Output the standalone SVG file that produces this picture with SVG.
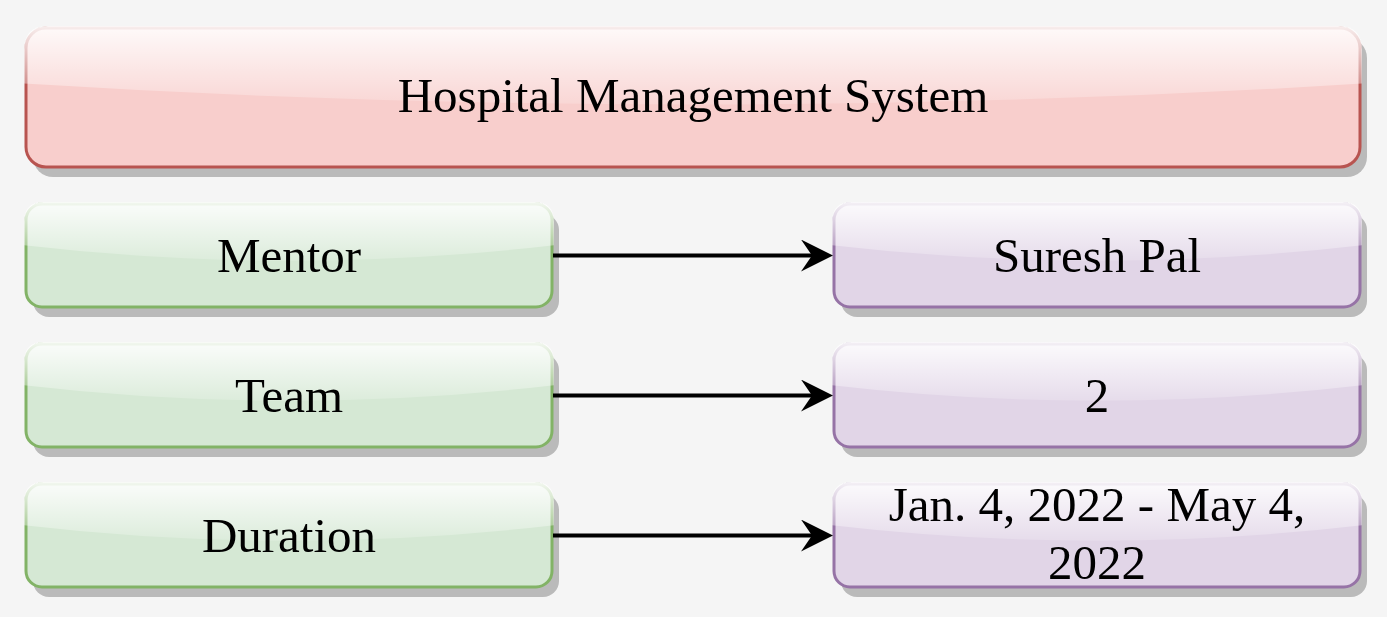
<svg xmlns="http://www.w3.org/2000/svg" width="1387" height="617" viewBox="0 0 1387 617">
<defs>
<linearGradient id="glass" x1="0" y1="0" x2="0" y2="1.1">
<stop offset="0" stop-color="#ffffff" stop-opacity="0.9"/>
<stop offset="1" stop-color="#ffffff" stop-opacity="0.1"/>
</linearGradient>
<marker id="arrow" markerUnits="userSpaceOnUse" markerWidth="32" markerHeight="32" viewBox="0 0 32 32" refX="19" refY="16" orient="auto">
<path d="M0,0 L32,16 L0,32 L11,16 Z" fill="#000000"/>
</marker>
</defs>
<style>
.shadow{fill:#000000;fill-opacity:0.24;}
.red{fill:#f8cecc;stroke:#b85450;stroke-width:3;}
.green{fill:#d5e8d4;stroke:#82b366;stroke-width:3;}
.purple{fill:#e1d5e7;stroke:#9673a6;stroke-width:3;}
.glass{fill:url(#glass);stroke:none;}
.label{font-family:"Liberation Serif","Times New Roman",serif;font-size:49px;fill:#000000;text-anchor:middle;}
.edge{stroke:#000000;stroke-width:4;fill:none;}
</style>
<rect x="0" y="0" width="1387" height="617" fill="#f5f5f5"/>

<g id="title">
<rect class="shadow" x="33" y="38" width="1334" height="139" rx="20"/>
<rect class="red" x="26" y="28" width="1334" height="139" rx="20"/>
<path class="glass" d="M48,26 Q24,26 24,50 L24,83.6 Q693,125.3 1362,83.6 L1362,50 Q1362,26 1338,26 Z"/>
<text class="label" x="693" y="112">Hospital Management System</text>
</g>

<g id="mentor">
<rect class="shadow" x="33" y="214" width="526" height="103" rx="16"/>
<rect class="green" x="26" y="204" width="526" height="103" rx="16"/>
<path class="glass" d="M44,202 Q24,202 24,222 L24,245.2 Q289,276.1 554,245.2 L554,222 Q554,202 534,202 Z"/>
<text class="label" x="289" y="271.5">Mentor</text>
</g>

<g id="suresh">
<rect class="shadow" x="841" y="214" width="526" height="103" rx="16"/>
<rect class="purple" x="834" y="204" width="526" height="103" rx="16"/>
<path class="glass" d="M852,202 Q832,202 832,222 L832,245.2 Q1097,276.1 1362,245.2 L1362,222 Q1362,202 1342,202 Z"/>
<text class="label" x="1097" y="271.5">Suresh Pal</text>
</g>

<g id="team">
<rect class="shadow" x="33" y="354" width="526" height="103" rx="16"/>
<rect class="green" x="26" y="344" width="526" height="103" rx="16"/>
<path class="glass" d="M44,342 Q24,342 24,362 L24,385.2 Q289,416.1 554,385.2 L554,362 Q554,342 534,342 Z"/>
<text class="label" x="289" y="411.5">Team</text>
</g>

<g id="teamsize">
<rect class="shadow" x="841" y="354" width="526" height="103" rx="16"/>
<rect class="purple" x="834" y="344" width="526" height="103" rx="16"/>
<path class="glass" d="M852,342 Q832,342 832,362 L832,385.2 Q1097,416.1 1362,385.2 L1362,362 Q1362,342 1342,342 Z"/>
<text class="label" x="1097" y="411.5">2</text>
</g>

<g id="duration">
<rect class="shadow" x="33" y="494" width="526" height="103" rx="16"/>
<rect class="green" x="26" y="484" width="526" height="103" rx="16"/>
<path class="glass" d="M44,482 Q24,482 24,502 L24,525.2 Q289,556.1 554,525.2 L554,502 Q554,482 534,482 Z"/>
<text class="label" x="289" y="551.5">Duration</text>
</g>

<g id="dates">
<rect class="shadow" x="841" y="494" width="526" height="103" rx="16"/>
<rect class="purple" x="834" y="484" width="526" height="103" rx="16"/>
<path class="glass" d="M852,482 Q832,482 832,502 L832,525.2 Q1097,556.1 1362,525.2 L1362,502 Q1362,482 1342,482 Z"/>
<text class="label" x="1097" y="521">Jan. 4, 2022 - May 4,</text>
<text class="label" x="1097" y="579">2022</text>
</g>

<g id="connectors">
<line class="edge" x1="553" y1="255.5" x2="820" y2="255.5" marker-end="url(#arrow)"/>
<line class="edge" x1="553" y1="395.5" x2="820" y2="395.5" marker-end="url(#arrow)"/>
<line class="edge" x1="553" y1="535.5" x2="820" y2="535.5" marker-end="url(#arrow)"/>
</g>
</svg>
